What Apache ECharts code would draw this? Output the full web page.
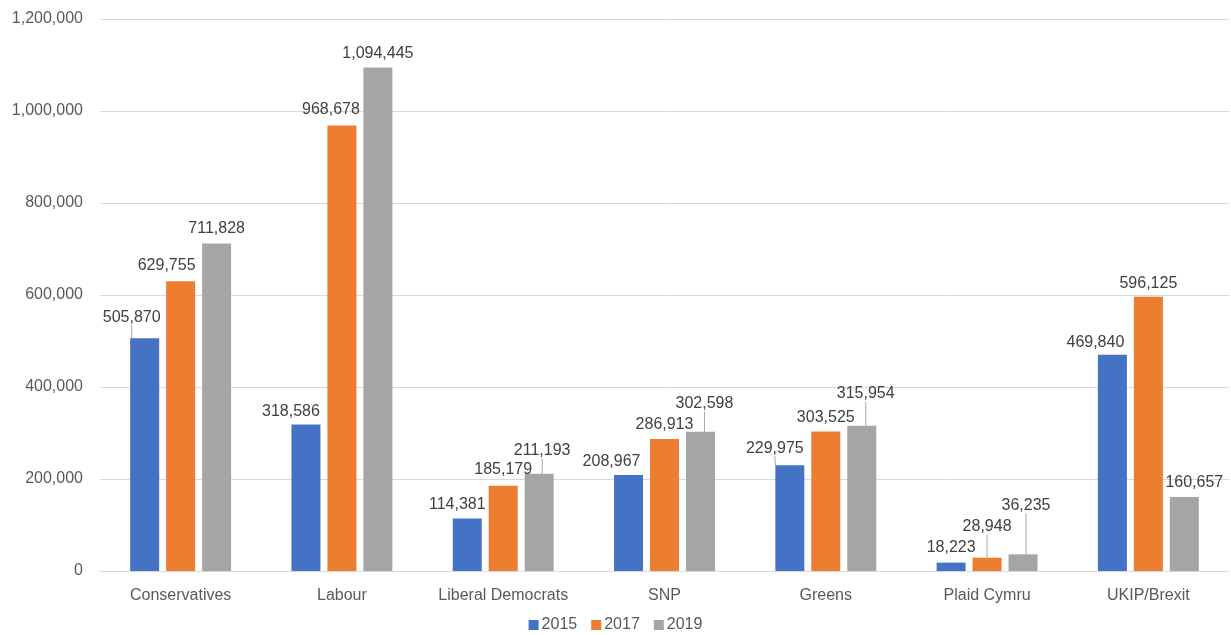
<!DOCTYPE html>
<html>
<head>
<meta charset="utf-8">
<script src="https://cdn.jsdelivr.net/npm/echarts@6/dist/echarts.min.js"></script>
<style>html,body{margin:0;padding:0;background:#fff}#c{width:1231px;height:635px}</style>
</head>
<body>
<div id="c"></div>
<script>
const categories = ['Conservatives', 'Labour', 'Liberal Democrats', 'SNP', 'Greens', 'Plaid Cymru', 'UKIP/Brexit'];
const seriesNames = ['2015', '2017', '2019'];
const values2015 = [505870, 318586, 114381, 208967, 229975, 18223, 469840];
const values2017 = [629755, 968678, 185179, 286913, 303525, 28948, 596125];
const values2019 = [711828, 1094445, 211193, 302598, 315954, 36235, 160657];
const yTicks = [0, 200000, 400000, 600000, 800000, 1000000, 1200000];

// label nudges (layout only) [dx, dy], and which labels get a leader line
const labelOffsets = [
  [[-13, -8], [-15, 0], [-10, -1], [-17, 0], [-15, -4], [0, -2], [-17, 1]],
  [[-14, -3], [-11, -3], [0, -3], [0, -1], [0, -1], [0, -18], [0, 0]],
  [[0, -2], [0, -1], [3, -10], [4, -15], [4, -19], [3, -36], [10, -2]]
];
const leaderLines = [
  [true, false, false, false, true, false, false],
  [false, false, false, false, false, true, false],
  [false, false, true, true, true, true, false]
];
const colors = ['#4472C4', '#ED7D31', '#A5A5A5'];
const allValues = [values2015, values2017, values2019];
const FONT = '"Liberation Sans", Arial, sans-serif';

const chart = echarts.init(document.getElementById('c'), null, {renderer: 'canvas'});
const fmt = v => v.toLocaleString('en-US');

const series = allValues.map((vals, si) => ({
  name: seriesNames[si],
  type: 'bar',
  barWidth: 29,
  barGap: '24%',
  itemStyle: {color: colors[si]},
  data: vals.map((v, di) => ({
    value: v,
    labelLine: {show: leaderLines[si][di], lineStyle: {color: '#A6A6A6', width: 1}}
  })),
  label: {
    show: true,
    position: 'top',
    distance: 5,
    color: '#404040',
    fontFamily: FONT,
    fontSize: 16,
    formatter: p => fmt(p.value)
  },
  labelLine: {show: false, smooth: false, length2: 0, lineStyle: {color: '#A6A6A6', width: 1}},
  labelLayout: p => ({dx: labelOffsets[si][p.dataIndex][0], dy: labelOffsets[si][p.dataIndex][1]})
}));

chart.setOption({
  animation: false,
  backgroundColor: '#fff',
  color: colors,
  grid: {left: 100, right: 2, top: 19, bottom: 64, containLabel: false},
  legend: {
    data: seriesNames,
    bottom: -3,
    left: 'center',
    icon: 'rect',
    itemWidth: 10,
    itemHeight: 10,
    itemGap: 14,
    textStyle: {color: '#595959', fontFamily: FONT, fontSize: 16, padding: [0, 0, 0, -2]}
  },
  xAxis: {
    type: 'category',
    data: categories,
    axisTick: {show: false},
    axisLine: {lineStyle: {color: '#D9D9D9'}},
    axisLabel: {color: '#595959', fontFamily: FONT, fontSize: 16, margin: 17, interval: 0}
  },
  yAxis: {
    type: 'value',
    min: yTicks[0],
    max: yTicks[yTicks.length - 1],
    interval: yTicks[1] - yTicks[0],
    axisLine: {show: false},
    axisTick: {show: false},
    splitLine: {lineStyle: {color: '#D9D9D9'}},
    axisLabel: {color: '#595959', fontFamily: FONT, fontSize: 16, margin: 17, formatter: v => fmt(v)}
  },
  series: series
});
</script>
</body>
</html>
